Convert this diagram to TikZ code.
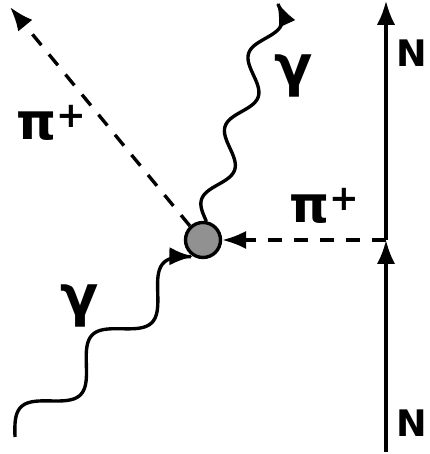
\documentclass[tikz,border=0pt]{standalone}
\usepackage{fontspec}
\newfontfamily\lblfont{DejaVu Sans}
\usepackage{xcolor}
\usetikzlibrary{arrows.meta,calc}
\definecolor{blobgray}{RGB}{145,145,145}

\begin{document}
\begin{tikzpicture}[
  line width=2.4pt,
  tip/.style={-{Latex[length=6mm,width=4.6mm]}},
  pion/.style={dash pattern=on 3.5mm off 3mm},
  lbl/.style={font=\lblfont\bfseries\fontsize{36}{36}\selectfont, inner sep=0pt},
  glbl/.style={font=\lblfont\bfseries\fontsize{40}{40}\selectfont, inner sep=0pt},
  nlbl/.style={font=\lblfont\bfseries\fontsize{26}{26}\selectfont, inner sep=0pt}
]
  \useasboundingbox (0,0) rectangle (10.725,11.35);
  \node[circle, draw, fill=blobgray, minimum size=0.875cm, inner sep=0pt] (blob) at (5.075,5.35) {};
  \coordinate (vtx) at (9.65,5.35);
  \coordinate (nin) at (9.65,0.05);
  \coordinate (nout) at (9.65,11.33);
  \coordinate (gin) at (0.375,0.425);
  \coordinate (gout) at (6.925,11.3);
  \coordinate (piout) at (0.25,11.175);
  \draw[tip] (nin) -- (vtx);
  \draw[tip] (vtx) -- (nout);
  \draw[tip, pion] (vtx) -- (blob);
  \draw[tip, pion] (blob.133) -- (piout);
  \draw[tip] let \p1=($(blob.240)-(gin)$), \n1={veclen(\x1,\y1)}, \n2={atan2(\y1,\x1)} in
    [shift={(gin)}, rotate=\n2] plot[variable=\t, domain=0:\n1, samples=120, smooth] ({\t*1pt}, {12pt*sin(900*(\t/\n1))});
  \draw[tip] let \p1=($(gout)-(blob.80)$), \n1={veclen(\x1,\y1)}, \n2={atan2(\y1,\x1)} in
    [shift={(blob.80)}, rotate=\n2] plot[variable=\t, domain=0:\n1, samples=120, smooth] ({\t*1pt}, {8pt*sin(1080*(\t/\n1))});
  \node[lbl, anchor=base west] (pil) at (0.375,7.85) {π\textsuperscript{+}};
  \node[lbl, anchor=base west] (pir) at (7.2,5.775) {π\textsuperscript{+}};
  \node[glbl] (gup) at (7.35,9.45) {γ};
  \node[glbl] (gdown) at (2.0,3.7) {γ};
  \node[nlbl] (nup) at (10.3,10.025) {N};
  \node[nlbl] (ndown) at (10.3,0.775) {N};
\end{tikzpicture}
\end{document}
